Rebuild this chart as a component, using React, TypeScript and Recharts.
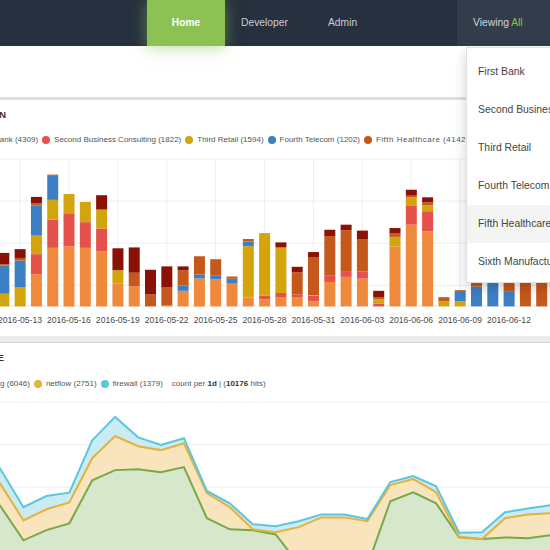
import React from 'react';
import { BarChart, Bar, XAxis, YAxis, CartesianGrid, AreaChart, Area } from 'recharts';

const FONT = '"Liberation Sans", Arial, Helvetica, sans-serif';

// ---------- Top chart: hits per organisation per day ----------
const DATES = [
  '2016-05-12', '2016-05-13', '2016-05-14', '2016-05-15', '2016-05-16', '2016-05-17', '2016-05-18',
  '2016-05-19', '2016-05-20', '2016-05-21', '2016-05-22', '2016-05-23', '2016-05-24', '2016-05-25',
  '2016-05-26', '2016-05-27', '2016-05-28', '2016-05-29', '2016-05-30', '2016-05-31', '2016-06-01',
  '2016-06-02', '2016-06-03', '2016-06-04', '2016-06-05', '2016-06-06', '2016-06-07', '2016-06-08',
  '2016-06-09', '2016-06-10', '2016-06-11', '2016-06-12', '2016-06-13', '2016-06-14',
];
const TICK_LABELS = [
  '2016-05-13', '2016-05-16', '2016-05-19', '2016-05-22', '2016-05-25', '2016-05-28',
  '2016-05-31', '2016-06-03', '2016-06-06', '2016-06-09', '2016-06-12',
];
const FIRST_BANK = [0, 0, 76, 139, 143, 139, 131, 54, 48, 0, 2, 37, 66, 64, 54, 21, 17, 21, 21, 12, 58, 70, 66, 0, 142, 194, 178, 0, 0, 0, 0, 0, 0, 0];
const SECOND_BUSINESS = [0, 0, 48, 67, 78, 61, 54, 0, 0, 0, 0, 0, 0, 0, 0, 0, 9, 11, 7, 13, 16, 12, 17, 6, 0, 46, 48, 0, 0, 0, 0, 0, 0, 0];
const THIRD_RETAIL = [30, 45, 44, 47, 46, 48, 45, 32, 0, 0, 0, 0, 0, 0, 0, 122, 148, 108, 0, 2, 0, 0, 0, 11, 23, 19, 14, 12, 12, 0, 0, 0, 0, 0];
const FOURTH_TELECOM = [67, 64, 72, 57, 0, 0, 0, 0, 0, 0, 0, 13, 10, 10, 12, 11, 0, 0, 0, 0, 0, 2, 0, 0, 0, 0, 0, 0, 25, 47, 100, 36, 0, 0];
const FIFTH_HEALTHCARE = [3, 6, 5, 3, 0, 0, 0, 0, 32, 29, 44, 36, 43, 38, 5, 6, 0, 0, 53, 89, 93, 97, 77, 5, 8, 4, 7, 10, 2, 30, 20, 40, 90, 85];
const SIXTH_MANUFACTURING = [27, 21, 15, 0, 0, 0, 34, 52, 60, 58, 49, 9, 0, 0, 0, 0, 0, 12, 13, 13, 15, 13, 20, 15, 13, 14, 12, 0, 0, 15, 0, 15, 10, 12];
const BAR_Y_TICKS = [0, 50, 100, 150, 200, 250, 300, 350];

const ORG_SERIES = [
  { key: 'first', name: 'First Bank', total: 4309, color: '#ef8a3d', values: FIRST_BANK },
  { key: 'second', name: 'Second Business Consulting', total: 1822, color: '#e5514b', values: SECOND_BUSINESS },
  { key: 'third', name: 'Third Retail', total: 1594, color: '#d3a40b', values: THIRD_RETAIL },
  { key: 'fourth', name: 'Fourth Telecom', total: 1202, color: '#3d7fc4', values: FOURTH_TELECOM },
  { key: 'fifth', name: 'Fifth Healthcare', total: 4142, color: '#c5581b', values: FIFTH_HEALTHCARE },
  { key: 'sixth', name: 'Sixth Manufacturing', total: 1083, color: '#8b1006', values: SIXTH_MANUFACTURING },
];

const barData = DATES.map((date, i) => {
  const row: Record<string, any> = { date };
  ORG_SERIES.forEach((s) => { row[s.key] = s.values[i]; });
  return row;
});

// ---------- Bottom chart: hits per source type per day ----------
const DAYS = [-1, 0, 1, 2, 3, 4, 5, 6, 7, 8, 9, 10, 11, 12, 13, 14, 15, 16, 17, 18, 19, 20, 21, 22, 23, 24];
const LOGGING = [204, 155, 75, 99, 115, 216, 240, 242, 235, 247, 127, 101, 99, 89, 20, 5, 0, 15, 167, 188, 162, 82, 78, 82, 80, 87];
const NETFLOW = [59, 52, 47, 49, 49, 52, 80, 54, 52, 56, 59, 52, 2, 5, 86, 124, 129, 105, 38, 31, 26, 2, 0, 45, 56, 52];
const FIREWALL = [47, 35, 31, 31, 23, 42, 45, 21, 12, 12, 5, 9, 12, 14, 14, 7, 7, 5, 7, 7, 14, 9, 16, 14, 14, 19];
const AREA_GRID_DAYS = [0.16, 3.16, 6.16, 9.16, 12.16, 15.16, 18.16, 21.16];
const AREA_Y_TICKS = [0, 50, 100, 150, 200, 250, 300, 350, 400];

const SOURCE_SERIES = [
  { key: 'logging', name: 'logging', total: 6046, stroke: '#77a94b', fill: '#d6e7cc' },
  { key: 'netflow', name: 'netflow', total: 2751, stroke: '#e4b23d', fill: '#f9e5bd' },
  { key: 'firewall', name: 'firewall', total: 1379, stroke: '#5bc6dd', fill: '#cbebf3' },
];

const areaData = DAYS.map((k, i) => ({ k, logging: LOGGING[i], netflow: NETFLOW[i], firewall: FIREWALL[i] }));

const NAV_ITEMS = ['Home', 'Developer', 'Admin'];
const DROPDOWN_ITEMS = ['First Bank', 'Second Business Consulting', 'Third Retail', 'Fourth Telecom', 'Fifth Healthcare', 'Sixth Manufacturing'];

const DateTick = (props: any) => {
  const { x, y, payload } = props;
  return (
    <text x={x} y={y} dy={16.5} textAnchor="middle" fontSize={8.6} fill="#4a4a4a" fontFamily={FONT}>
      {payload.value}
    </text>
  );
};

function Legend({ items, left, top, width, extra, spacing }: { items: { name: string; total: number; color: string }[]; left: number; top: number; width: number; extra?: React.ReactNode; spacing?: Record<string, number> }) {
  return (
    <div style={{ position: 'absolute', left, top, width, height: 10, overflow: 'hidden', display: 'flex', alignItems: 'center', whiteSpace: 'nowrap', fontSize: 8, color: '#555', lineHeight: '10px' }}>
      {items.map((it) => (
        <span key={it.name} style={{ display: 'flex', alignItems: 'center', marginRight: 4, flexShrink: 0 }}>
          <span style={{ width: 8, height: 8, borderRadius: 4, background: it.color, marginRight: 4, display: 'inline-block' }} />
          <span style={{ letterSpacing: spacing && spacing[it.name] ? spacing[it.name] : 0 }}>{it.name} ({it.total})</span>
        </span>
      ))}
      {extra}
    </div>
  );
}

export default function App() {
  return (
    <div style={{ position: 'fixed', left: 0, top: 0, width: 550, height: 550, overflow: 'hidden', background: '#ffffff', fontFamily: FONT }}>
      {/* navbar */}
      <div style={{ position: 'absolute', left: 0, top: 0, width: 550, height: 46, background: '#26303e' }} />
      <div style={{ position: 'absolute', left: 147, top: 0, width: 78, height: 46, background: '#8bc253', boxShadow: '0 2px 14px rgba(139,194,83,0.55)', zIndex: 2 }} />
      <div style={{ position: 'absolute', left: 147, top: 0, width: 78, height: 46, lineHeight: '46px', textAlign: 'center', color: '#fff', fontWeight: 'bold', fontSize: 10.2, zIndex: 3 }}>{NAV_ITEMS[0]}</div>
      <div style={{ position: 'absolute', left: 241, top: 0, height: 46, lineHeight: '46px', color: '#c9ced6', fontSize: 10.3 }}>{NAV_ITEMS[1]}</div>
      <div style={{ position: 'absolute', left: 328, top: 0, height: 46, lineHeight: '46px', color: '#c9ced6', fontSize: 10.3 }}>{NAV_ITEMS[2]}</div>
      <div style={{ position: 'absolute', left: 457, top: 0, width: 93, height: 46, background: '#323c4b' }} />
      <div style={{ position: 'absolute', left: 473, top: 0, height: 46, lineHeight: '46px', color: '#d3d7dd', fontSize: 10.3, whiteSpace: 'nowrap' }}>
        Viewing <span style={{ color: '#8bc34a' }}>All</span>
      </div>

      {/* separators */}
      <div style={{ position: 'absolute', left: 0, top: 97, width: 550, height: 3, background: '#dedede' }} />
      <div style={{ position: 'absolute', left: 0, top: 336, width: 550, height: 6, background: '#ebebeb', borderBottom: '1px solid #d2d2d2' }} />

      {/* panel 1 */}
      <div style={{ position: 'absolute', right: 544, top: 110, fontWeight: 'bold', fontSize: 9.3, color: '#333', whiteSpace: 'nowrap', lineHeight: '10px' }}>HITS BY ORGANIZATION</div>
      <Legend items={ORG_SERIES} left={-35.3} top={135} width={501.3} spacing={{ 'Fifth Healthcare': 0.5 }} />
      <div style={{ position: 'absolute', left: -60, top: 149.3 }}>
        <BarChart width={609.75} height={187.4} data={barData} margin={{ top: 10, right: 0, bottom: 0, left: 0 }} barCategoryGap="17%">
          <CartesianGrid stroke="#eeeeee" />
          <XAxis dataKey="date" ticks={TICK_LABELS} interval={0} tick={<DateTick />} axisLine={false} tickLine={false} tickSize={0} tickMargin={0} height={30} />
          <YAxis width={55.55} domain={[0, 350]} ticks={BAR_Y_TICKS} axisLine={false} tickLine={false} tick={{ fontSize: 8 }} />
          {ORG_SERIES.map((s) => (
            <Bar key={s.key} dataKey={s.key} name={s.name} stackId="org" fill={s.color} isAnimationActive={false} />
          ))}
        </BarChart>
      </div>

      {/* panel 2 */}
      <div style={{ position: 'absolute', right: 546, top: 353, fontWeight: 'bold', fontSize: 9.3, color: '#333', whiteSpace: 'nowrap', lineHeight: '10px' }}>HITS BY SOURCE TYPE</div>
      <Legend
        items={SOURCE_SERIES.map((s) => ({ name: s.name, total: s.total, color: s.stroke }))}
        left={-33.3}
        top={379}
        width={583}
        extra={
          <span style={{ marginLeft: 5 }}>
            count per <b style={{ color: '#333' }}>1d</b> | (<b style={{ color: '#333' }}>10176</b> hits)
          </span>
        }
      />
      <div style={{ position: 'absolute', left: -80, top: 391.7 }}>
        <AreaChart width={630.8} height={210.3} data={areaData} margin={{ top: 10, right: 0, bottom: 0, left: 0 }}>
          <CartesianGrid stroke="#eeeeee" />
          <XAxis dataKey="k" type="number" domain={[-1, 24]} ticks={AREA_GRID_DAYS} tick={false} axisLine={false} tickLine={false} height={30} />
          <YAxis width={57.6} domain={[0, 400]} ticks={AREA_Y_TICKS} axisLine={false} tickLine={false} tick={{ fontSize: 8 }} />
          {SOURCE_SERIES.map((s) => (
            <Area key={'f' + s.key} type="linear" dataKey={s.key} stackId="fill" stroke="none" fill={s.fill} fillOpacity={1} isAnimationActive={false} />
          ))}
          {SOURCE_SERIES.map((s) => (
            <Area key={'l' + s.key} type="linear" dataKey={s.key} stackId="line" stroke={s.stroke} strokeWidth={2} fill="none" fillOpacity={0} dot={false} activeDot={false} isAnimationActive={false} />
          ))}
        </AreaChart>
      </div>

      {/* dropdown */}
      <div style={{ position: 'absolute', left: 466, top: 47, width: 140, height: 236, background: '#fff', border: '1px solid rgba(0,0,0,0.12)', boxShadow: '0 5px 12px rgba(0,0,0,0.18)', paddingTop: 5, boxSizing: 'border-box', zIndex: 10 }}>
        {DROPDOWN_ITEMS.map((name, i) => (
          <div key={name} style={{ height: 38, lineHeight: '38px', paddingLeft: 11, fontSize: 10.4, color: '#444', whiteSpace: 'nowrap', background: i === 4 ? '#f4f4f4' : 'transparent' }}>
            {name}
          </div>
        ))}
      </div>
    </div>
  );
}
